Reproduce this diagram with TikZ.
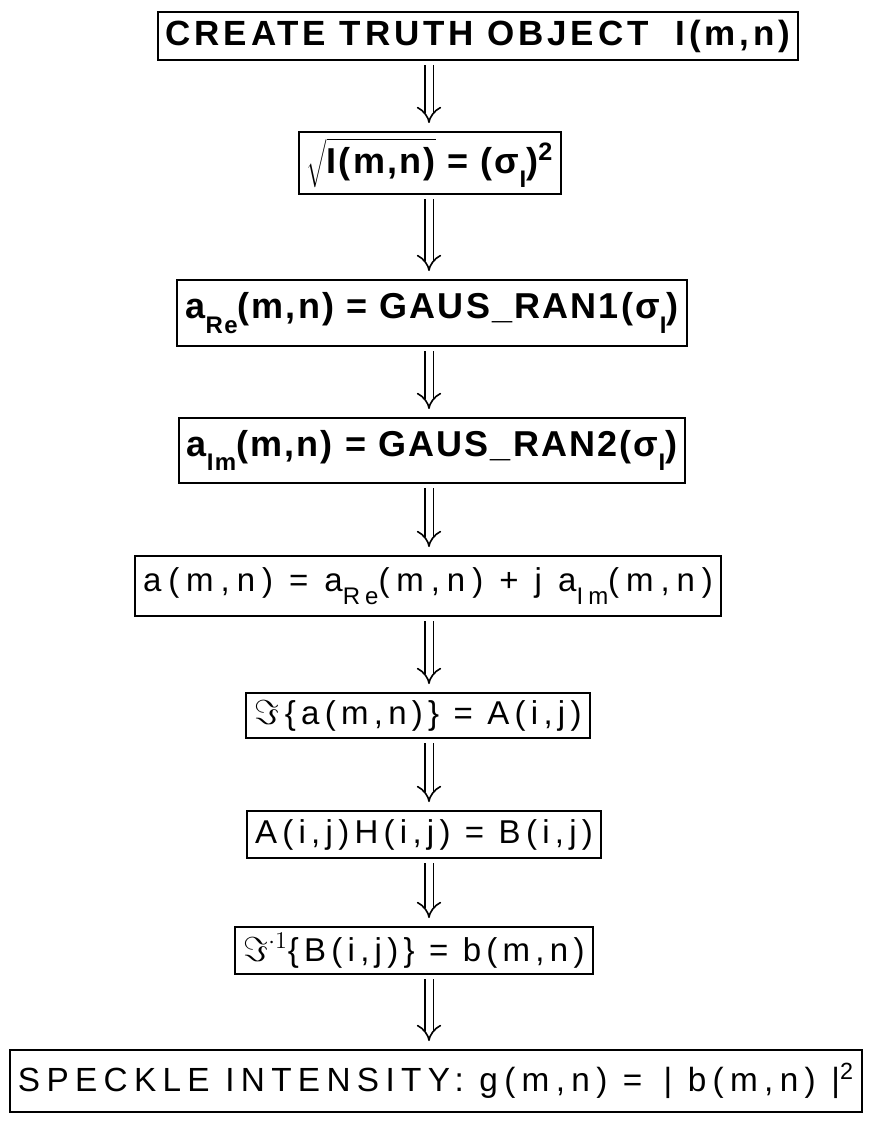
\documentclass[tikz,border=0pt]{standalone}
\usepackage{fontspec}
\usepackage{graphicx}
\setmainfont{Liberation Sans}
\usetikzlibrary{arrows.meta}

% squeeze a line of text to a given width, keeping its height
\newcommand\fitw[2]{\resizebox{#1}{\height}{#2}}
\newcommand\sbs[1]{\raisebox{-0.4em}{\fontsize{12}{12}\selectfont #1}}

\begin{document}
\begin{tikzpicture}[x=0.5pt,y=-0.5pt,
    stepbox/.style={draw, line width=1pt, inner xsep=4pt, inner ysep=0pt,
      font=\fontsize{16.5}{19}\selectfont\addfontfeatures{LetterSpace=16}},
    heavy/.style={font=\fontsize{18}{21}\selectfont\bfseries\addfontfeatures{LetterSpace=6}},
    dnarrow/.style={double, double distance=3.5pt, line width=0.8pt,
      -{Implies}, shorten <=2pt, shorten >=4pt}]
  \useasboundingbox (0,0) rectangle (873,1123);
  \coordinate (axis) at (429,0);

  \node[stepbox, minimum height=24pt,
    font=\fontsize{17.5}{20}\selectfont\bfseries\addfontfeatures{LetterSpace=11}]
    (truth) at (478,36) {CREATE TRUTH OBJECT\ \ I(m,n)};
  \node[stepbox, heavy, minimum height=31pt] (root) at (430,163)
    {$\sqrt{\mbox{\rule[-5pt]{0pt}{19pt}I(m,n)}}$ = (σ\sbs{I})\textsuperscript{2}};
  \node[stepbox, heavy, minimum height=33pt] (real) at (432,313)
    {a\sbs{Re}(m,n) = GAUS\_RAN1(σ\sbs{I})};
  \node[stepbox, heavy, minimum height=32.5pt] (imag) at (432,450.5)
    {a\sbs{Im}(m,n) = GAUS\_RAN2(σ\sbs{I})};
  \node[stepbox, minimum height=30pt,
    font=\fontsize{16.5}{19}\selectfont\addfontfeatures{LetterSpace=21}] (cplx) at (428,586)
    {a(m,n) = a\sbs{Re}(m,n) + j a\sbs{Im}(m,n)};
  \node[stepbox, minimum height=22.5pt] (fft) at (418,715.5)
    {$\Im$\,\{a(m,n)\} = A(i,j)};
  \node[stepbox, minimum height=23.5pt] (filt) at (424,834.5)
    {A(i,j)H(i,j) = B(i,j)};
  \node[stepbox, minimum height=23.5pt] (ifft) at (414,950.5)
    {$\Im^{\cdot 1}$\{B(i,j)\} = b(m,n)};
  \node[stepbox, minimum width=422.5pt, minimum height=31pt,
    font=\fontsize{16.75}{20}\selectfont\addfontfeatures{LetterSpace=19}] (speckle) at (436,1081)
    {\fitw{418pt}{SPECKLE INTENSITY: g(m,n) = \,| b(m,n) |\textsuperscript{2}}};

  \foreach \a/\b in {truth/root, root/real, real/imag, imag/cplx,
      cplx/fft, fft/filt, filt/ifft, ifft/speckle}
    \draw[dnarrow] (\a.south -| axis) -- (\b.north -| axis);
\end{tikzpicture}
\end{document}
